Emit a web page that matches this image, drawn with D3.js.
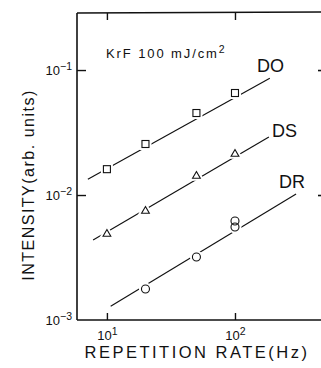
<!DOCTYPE html>
<html><head><meta charset="utf-8">
<script src="https://cdn.jsdelivr.net/npm/d3@7"></script>
<style>
html,body{margin:0;padding:0;background:#fff;}
svg{display:block;}
text{font-family:"Liberation Sans",Arial,sans-serif;fill:#111;}
</style></head>
<body>
<svg id="c" width="321" height="368"></svg>
<script>
// ---- data ----
const xTicks = [10, 100];
const xTickExp = ["1", "2"];
const yTicks = [1e-3, 1e-2, 1e-1];
const yTickExp = ["\u22123", "\u22122", "\u22121"];
const freqDO = [10, 20, 50, 100];
const valuesDO = [0.0161, 0.0256, 0.0453, 0.0655];
const freqDS = [10, 20, 50, 100];
const valuesDS = [0.00488, 0.00745, 0.0142, 0.0213];
const freqDR = [20, 50, 100, 100];
const valuesDR = [0.00177, 0.00319, 0.0062, 0.00555];
const fitDO = [[7.1, 0.0134], [187, 0.086]];
const fitDS = [[7.8, 0.00436], [184, 0.0291]];
const fitDR = [[10.7, 0.00129], [300, 0.0102]];
const seriesNames = ["DO", "DS", "DR"];
const annotation = "KrF  100 mJ/cm";
const xTitle = "REPETITION RATE(Hz)";
const yTitle = "INTENSITY(arb. units)";

const svg = d3.select("#c");
const L = 77, R = 322, T = 13, B = 320;
const x = d3.scaleLog().domain([5.84, 478]).range([L, R]);
const y = d3.scaleLog().domain([1e-3, 0.286]).range([B, T]);

const ink = "#111";

// frame
svg.append("line").attr("x1", L).attr("x2", L).attr("y1", T).attr("y2", B).attr("stroke", ink).attr("stroke-width", 1.6);
svg.append("line").attr("x1", L).attr("x2", 321).attr("y1", B).attr("y2", B).attr("stroke", ink).attr("stroke-width", 1.6);
svg.append("line").attr("x1", L).attr("x2", 321).attr("y1", T).attr("y2", T - 1).attr("stroke", ink).attr("stroke-width", 1.4);

// axes
const yAxis = d3.axisLeft(y).tickValues(yTicks).tickSize(-9).tickFormat(() => "");
const gy = svg.append("g").attr("transform", `translate(${L},0)`).call(yAxis);
gy.select(".domain").remove();
gy.selectAll(".tick line").attr("stroke", ink).attr("stroke-width", 1.4);
gy.selectAll(".tick").each(function(d, i) {
  const t = d3.select(this).append("text").attr("x", -5).attr("dy", "0.38em")
    .attr("text-anchor", "end").style("font-size", "13px").attr("fill", ink);
  t.append("tspan").text("10");
  t.append("tspan").attr("dy", "-0.5em").style("font-size", "10.5px").text(yTickExp[i]);
});
gy.selectAll(".tick").filter(d => d === 1e-3).select("line").remove();

const xAxis = d3.axisBottom(x).tickValues(xTicks).tickSize(-7).tickFormat(() => "");
const gx = svg.append("g").attr("transform", `translate(0,${B})`).call(xAxis);
gx.select(".domain").remove();
gx.selectAll(".tick line").attr("stroke", ink).attr("stroke-width", 1.4);
gx.selectAll(".tick").each(function(d, i) {
  const t = d3.select(this).append("text").attr("x", 0).attr("y", 20)
    .attr("text-anchor", "middle").style("font-size", "13px").attr("fill", ink);
  t.append("tspan").text("10");
  t.append("tspan").attr("dy", "-0.5em").style("font-size", "10.5px").text(xTickExp[i]);
});

// top and right ticks (mirror)
const gt = svg.append("g").attr("transform", `translate(0,${T})`).call(d3.axisTop(x).tickValues(xTicks).tickSize(-7).tickFormat(() => ""));
gt.select(".domain").remove();
gt.selectAll(".tick line").attr("stroke", ink).attr("stroke-width", 1.4);
const gr = svg.append("g").attr("transform", `translate(${R},0)`).call(d3.axisRight(y).tickValues(yTicks.filter(v => v > 1e-3)).tickSize(-4).tickFormat(() => ""));
gr.select(".domain").remove();
gr.selectAll(".tick line").attr("stroke", ink).attr("stroke-width", 1.6);

// fit lines
const line = d3.line().x(d => x(d[0])).y(d => y(d[1]));
[fitDO, fitDS, fitDR].forEach(f => {
  svg.append("path").attr("d", line(f)).attr("fill", "none").attr("stroke", ink).attr("stroke-width", 1.15);
});

// markers
function pts(fr, vals) { return fr.map((f, i) => [f, vals[i]]); }
const gap = 2.5;
// squares
const sq = svg.append("g");
pts(freqDO, valuesDO).forEach(p => {
  const s = 7;
  sq.append("rect").attr("x", x(p[0]) - s / 2).attr("y", y(p[1]) - s / 2).attr("width", s).attr("height", s)
    .attr("fill", "#fff").attr("stroke", "#fff").attr("stroke-width", gap * 2);
  sq.append("rect").attr("x", x(p[0]) - s / 2).attr("y", y(p[1]) - s / 2).attr("width", s).attr("height", s)
    .attr("fill", "#fff").attr("stroke", ink).attr("stroke-width", 1.1);
});
// triangles
const tri = d3.symbol().type(d3.symbolTriangle).size(26);
pts(freqDS, valuesDS).forEach(p => {
  svg.append("path").attr("d", tri()).attr("transform", `translate(${x(p[0])},${y(p[1])})`)
    .attr("fill", "#fff").attr("stroke", "#fff").attr("stroke-width", gap * 2);
  svg.append("path").attr("d", tri()).attr("transform", `translate(${x(p[0])},${y(p[1])})`)
    .attr("fill", "#fff").attr("stroke", ink).attr("stroke-width", 1.1);
});
// circles
const cd = pts(freqDR, valuesDR);
cd.forEach(p => {
  svg.append("circle").attr("cx", x(p[0])).attr("cy", y(p[1])).attr("r", 4)
    .attr("fill", "#fff").attr("stroke", "#fff").attr("stroke-width", gap * 2);
});
cd.forEach(p => {
  svg.append("circle").attr("cx", x(p[0])).attr("cy", y(p[1])).attr("r", 4)
    .attr("fill", "none").attr("stroke", ink).attr("stroke-width", 1.1);
});

// labels
const labelPos = [[257, 72], [272, 137], [279, 188]];
seriesNames.forEach((n, i) => {
  svg.append("text").attr("x", labelPos[i][0]).attr("y", labelPos[i][1]).style("font-size", "18px").text(n);
});
const ann = svg.append("text").attr("x", 106).attr("y", 58).style("font-size", "13px").style("letter-spacing", "1.9px");
ann.append("tspan").text(annotation);
ann.append("tspan").attr("dy", "-0.5em").style("font-size", "10.5px").text("2");

svg.append("text").attr("x", 197).attr("y", 358).attr("text-anchor", "middle")
  .style("font-size", "16.5px").style("letter-spacing", "2.5px").text(xTitle);
svg.append("text").attr("transform", "translate(34,185) rotate(-90)").attr("text-anchor", "middle")
  .style("font-size", "16px").style("letter-spacing", "1.5px").text(yTitle);
</script>
</body></html>
